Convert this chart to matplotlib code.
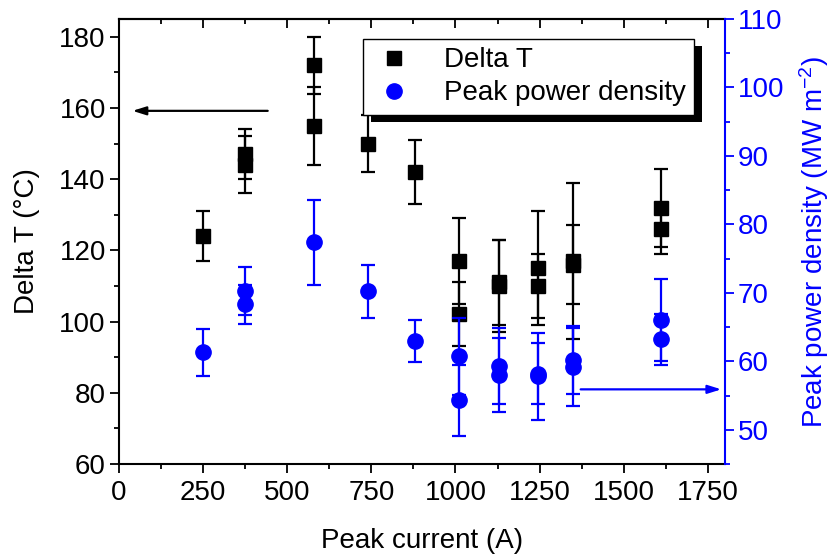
import matplotlib
matplotlib.use("Agg")
import matplotlib.pyplot as plt
from matplotlib.patches import Rectangle
from matplotlib.ticker import MultipleLocator

plt.rcParams['font.family'] = ['Liberation Sans', 'DejaVu Sans']
plt.rcParams['mathtext.fontset'] = 'custom'
plt.rcParams['mathtext.rm'] = 'Liberation Sans'
plt.rcParams['mathtext.default'] = 'regular'

# Delta T data (left axis)
current_dt = [250, 375, 375, 580, 580, 740, 880, 1010, 1010, 1130, 1130, 1245, 1245, 1350, 1350, 1610, 1610]
delta_t = [124, 147, 144, 172, 155, 150, 142, 117, 102, 110, 111, 115, 110, 117, 116, 132, 126]
delta_t_err = [7, 7, 8, 8, 11, 8, 9, 12, 9, 13, 12, 16, 9, 22, 11, 11, 7]

# Peak power density data (right axis)
current_pd = [250, 375, 375, 580, 740, 880, 1010, 1010, 1130, 1130, 1245, 1245, 1350, 1350, 1610, 1610]
power_density = [61.3, 70.3, 68.3, 77.4, 70.2, 63.0, 60.7, 54.3, 59.3, 58.0, 57.8, 58.2, 60.2, 59.2, 66.0, 63.2]
pd_err = [3.4, 3.5, 2.8, 6.2, 3.9, 3.1, 5.6, 5.2, 5.6, 5.4, 6.4, 4.5, 5.0, 5.7, 6.0, 3.7]

fs = 20
blue = '#0000ff'

fig = plt.figure(figsize=(8.32, 5.59), dpi=100)
ax = fig.add_axes([0.143, 0.170, 0.728, 0.796])
ax2 = ax.twinx()

ax.errorbar(current_dt, delta_t, yerr=delta_t_err, fmt='s', color='black', ms=9.5,
            elinewidth=1.6, capsize=5, capthick=1.6, label='Delta T')
ax2.errorbar(current_pd, power_density, yerr=pd_err, fmt='o', color=blue, ms=11,
             elinewidth=1.6, capsize=5, capthick=1.6, label='Peak power density')

ax.set_xlim(0, 1800)
ax.set_ylim(60, 185)
ax2.set_ylim(45, 110)

ax.xaxis.set_major_locator(MultipleLocator(250))
ax.xaxis.set_minor_locator(MultipleLocator(125))
ax.yaxis.set_major_locator(MultipleLocator(20))
ax.yaxis.set_minor_locator(MultipleLocator(10))
ax2.yaxis.set_major_locator(MultipleLocator(10))
ax2.yaxis.set_minor_locator(MultipleLocator(5))

for sp in ax.spines.values():
    sp.set_linewidth(1.5)
ax.spines['right'].set_visible(False)
for name, sp in ax2.spines.items():
    sp.set_visible(name == 'right')
ax2.spines['right'].set_color(blue)
ax2.spines['right'].set_linewidth(1.5)

ax.tick_params(which='major', direction='out', length=6.5, width=1.3, labelsize=fs, pad=3)
ax.tick_params(axis='x', which='major', pad=5)
ax.tick_params(which='minor', direction='out', length=3.5, width=1.3)
ax2.tick_params(which='major', direction='out', length=6.5, width=1.3, labelsize=fs,
                colors=blue, pad=3)
ax2.tick_params(which='minor', direction='out', length=3.5, width=1.3, colors=blue)

# top axis ticks pointing inward
top = ax.secondary_xaxis('top')
top.xaxis.set_major_locator(MultipleLocator(250))
top.xaxis.set_minor_locator(MultipleLocator(125))
top.tick_params(which='major', direction='in', length=6.5, width=1.3, labeltop=False)
top.tick_params(which='minor', direction='in', length=3.5, width=1.3)
top.spines['top'].set_linewidth(1.5)

ax.set_xlabel('Peak current (A)', fontsize=fs, labelpad=16)
ax.set_ylabel('Delta T (°C)', fontsize=fs, labelpad=14)
ax2.set_ylabel('Peak power density (MW m$^{-2}$)', fontsize=fs, color=blue, labelpad=9)

# arrows pointing to the axes
ax.annotate('', xy=(40, 159.2), xytext=(442, 159.2),
            arrowprops=dict(arrowstyle='-|>,head_length=0.8,head_width=0.25',
                            color='black', lw=1.6, shrinkA=0, shrinkB=0))
ax2.annotate('', xy=(1790, 55.9), xytext=(1372, 55.9),
             arrowprops=dict(arrowstyle='-|>,head_length=0.8,head_width=0.25',
                             color=blue, lw=1.6, shrinkA=0, shrinkB=0))

# legend with solid black shadow
h1, l1 = ax.get_legend_handles_labels()
h2, l2 = ax2.get_legend_handles_labels()
leg = ax2.legend([h1[0][0], h2[0][0]], l1 + l2, loc='upper left',
                 bbox_to_anchor=(0.403, 0.955), fontsize=fs, frameon=True,
                 fancybox=False, edgecolor='black', framealpha=1, borderaxespad=0,
                 labelspacing=0.25, handletextpad=1.0, handlelength=1.6,
                 borderpad=0.3)
leg.get_frame().set_linewidth(1.0)
leg.set_zorder(10)

ax2.set_zorder(1)
ax.set_zorder(0)
ax2.patch.set_visible(False)

fig.canvas.draw()
bb = leg.get_window_extent().transformed(fig.transFigure.inverted())
dx, dy = 8 / 832, 7 / 559
ax2.add_patch(Rectangle((bb.x0 + dx, bb.y0 - dy), bb.width, bb.height,
                        transform=fig.transFigure, facecolor='black',
                        edgecolor='none', zorder=9, clip_on=False))

fig.savefig('out.png', dpi=100)
